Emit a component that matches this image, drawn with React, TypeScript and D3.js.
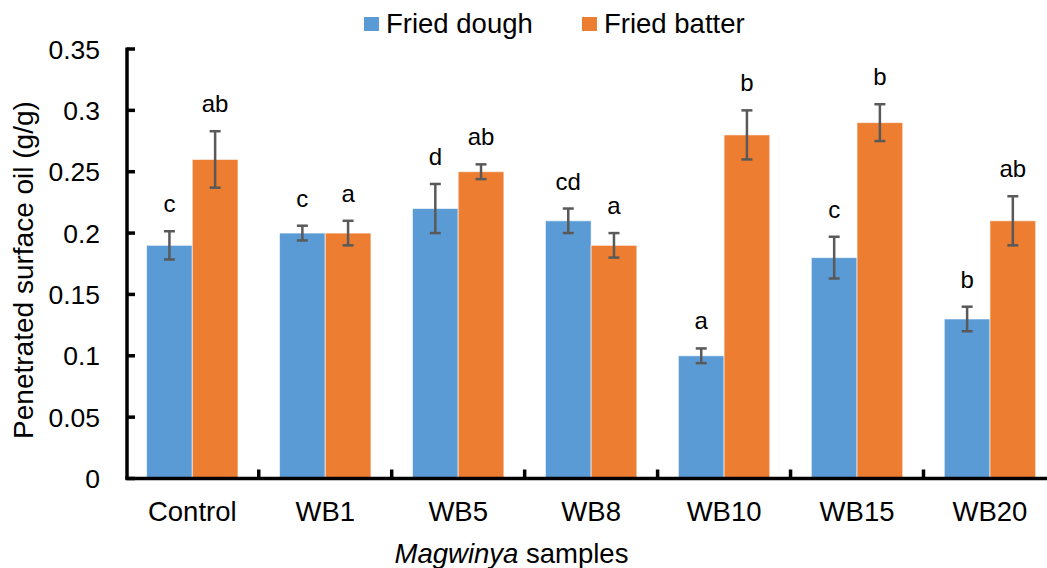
import React from "react";
import * as d3 from "d3";

const categories = ["Control", "WB1", "WB5", "WB8", "WB10", "WB15", "WB20"];
const seriesNames = ["Fried dough", "Fried batter"];
const friedDough = [0.19, 0.2, 0.22, 0.21, 0.1, 0.18, 0.13];
const friedBatter = [0.26, 0.2, 0.25, 0.19, 0.28, 0.29, 0.21];
const doughErr = [0.0115, 0.006, 0.02, 0.01, 0.006, 0.017, 0.01];
const batterErr = [0.023, 0.01, 0.006, 0.01, 0.02, 0.015, 0.02];
const doughLetters = ["c", "c", "d", "cd", "a", "c", "b"];
const batterLetters = ["ab", "a", "ab", "a", "b", "b", "ab"];
const yTicks = [0, 0.05, 0.1, 0.15, 0.2, 0.25, 0.3, 0.35];
const colors = ["#5B9BD5", "#ED7D31"];

const W = 1047;
const H = 568;
const FONT = "Arial, 'Liberation Sans', sans-serif";

export default function App() {
  const x0 = d3
    .scaleBand<string>()
    .domain(categories)
    .range([125.8, 125.8 + 7 * 132.95])
    .paddingInner(0.3125)
    .paddingOuter(0.15625);
  const x1 = d3.scaleBand<string>().domain(seriesNames).range([0, x0.bandwidth()]);
  const y = d3.scaleLinear().domain([0, 0.35]).range([478.5, 49]);

  const values = [friedDough, friedBatter];
  const errs = [doughErr, batterErr];
  const letters = [doughLetters, batterLetters];
  const axisX = 127;
  const axisY = y(0);

  return (
    <svg
      width={W}
      height={H}
      style={{ position: "absolute", left: 0, top: 0, background: "#fff" }}
      fontFamily={FONT}
    >
      {seriesNames.map((s, si) =>
        categories.map((c, ci) => {
          const v = values[si][ci];
          const bx = (x0(c) as number) + (x1(s) as number);
          return (
            <rect
              key={s + c}
              x={bx}
              y={y(v)}
              width={x1.bandwidth()}
              height={axisY - y(v)}
              fill={colors[si]}
              stroke="#fff"
              strokeWidth={1}
              strokeOpacity={0.6}
            />
          );
        })
      )}
      {seriesNames.map((s, si) =>
        categories.map((c, ci) => {
          const v = values[si][ci];
          const e = errs[si][ci];
          const cx = (x0(c) as number) + (x1(s) as number) + x1.bandwidth() / 2;
          const top = y(v + e);
          const bot = y(v - e);
          return (
            <g key={"e" + s + c}>
              <line x1={cx} x2={cx} y1={top} y2={bot} stroke="#595959" strokeWidth={2.5} />
              <line x1={cx - 5.5} x2={cx + 5.5} y1={top} y2={top} stroke="#595959" strokeWidth={2.5} />
              <line x1={cx - 5.5} x2={cx + 5.5} y1={bot} y2={bot} stroke="#595959" strokeWidth={2.5} />
              <text x={cx} y={top - 19} textAnchor="middle" fontSize={24} fill="#000">
                {letters[si][ci]}
              </text>
            </g>
          );
        })
      )}
      <line x1={axisX} x2={axisX} y1={y(0.35) - 1.5} y2={axisY} stroke="#000" strokeWidth={3.5} />
      {yTicks.map((t) => (
        <g key={"yt" + t}>
          <line x1={axisX} x2={axisX + 8} y1={y(t)} y2={y(t)} stroke="#000" strokeWidth={3.5} />
          <text x={100} y={y(t) + 9.5} textAnchor="end" fontSize={26.5} fill="#000">
            {t}
          </text>
        </g>
      ))}
      <line x1={axisX - 1.75} x2={W} y1={axisY} y2={axisY} stroke="#000" strokeWidth={3.5} />
      {categories.map((c, ci) =>
        ci === 0 ? null : (
          <line
            key={"xt" + c}
            x1={x0(c)! - (x0.step() - x0.bandwidth()) / 2}
            x2={x0(c)! - (x0.step() - x0.bandwidth()) / 2}
            y1={axisY}
            y2={axisY - 9}
            stroke="#000"
            strokeWidth={3.5}
          />
        )
      )}
      {categories.map((c) => (
        <text
          key={"xl" + c}
          x={(x0(c) as number) + x0.bandwidth() / 2}
          y={521}
          textAnchor="middle"
          fontSize={27.5}
          fill="#000"
        >
          {c}
        </text>
      ))}
      <text x={511.5} y={563} textAnchor="middle" fontSize={27.5} fill="#000">
        <tspan fontStyle="italic">Magwinya</tspan>
        <tspan> samples</tspan>
      </text>
      <text
        transform={`translate(33, 270) rotate(-90)`}
        textAnchor="middle"
        fontSize={28}
        fill="#000"
      >
        Penetrated surface oil (g/g)
      </text>
      {seriesNames.map((s, si) => {
        const lx = [364, 582][si];
        return (
          <g key={"lg" + s}>
            <rect x={lx} y={17} width={15} height={14} fill={colors[si]} />
            <text x={lx + 22} y={33} fontSize={27.5} fill="#000">
              {s}
            </text>
          </g>
        );
      })}
    </svg>
  );
}
